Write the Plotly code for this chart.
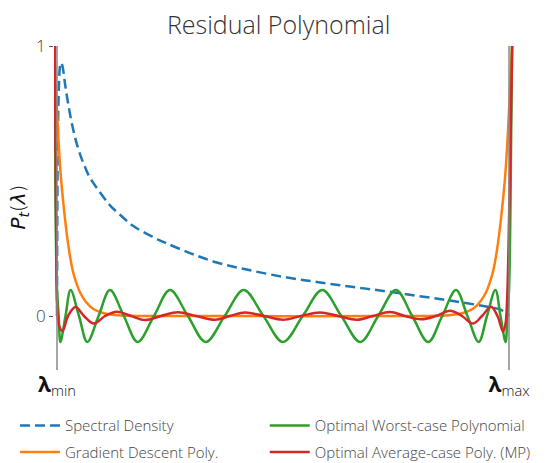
import plotly.graph_objects as go

# ---- data ----
lam_min = 0.0066
lam_max = 1.0

density_x = [0.0066, 0.0075, 0.0088, 0.011, 0.0132, 0.0154, 0.0187, 0.0242, 0.0308, 0.0396,
             0.0505, 0.0637, 0.0791, 0.1011, 0.1231, 0.1451, 0.1743, 0.2182, 0.2477, 0.2989,
             0.3576, 0.4235, 0.504, 0.5774, 0.6505, 0.7237, 0.7971, 0.8703, 0.9435, 0.9802,
             0.9912, 0.9967, 1.0]
density_y = [0.0, 0.45, 0.70, 0.86, 0.925, 0.938, 0.925, 0.86, 0.79, 0.71,
             0.635, 0.57, 0.512, 0.458, 0.41, 0.375, 0.333, 0.292, 0.269, 0.233,
             0.198, 0.172, 0.145, 0.126, 0.109, 0.093, 0.075, 0.057, 0.037, 0.024,
             0.014, 0.008, 0.0]

gd_x = [0.0, 0.0033, 0.0066, 0.011, 0.0154, 0.0198, 0.0242, 0.0308, 0.0374, 0.044,
        0.0571, 0.0703, 0.0857, 0.1077, 0.1341, 0.167, 0.233, 0.7736, 0.8396, 0.8725,
        0.8989, 0.9209, 0.9363, 0.9495, 0.9626, 0.9692, 0.9758, 0.9824, 0.9868, 0.9912,
        0.9956, 1.0, 1.0033, 1.0066, 1.0099]
gd_y = [1.0, 0.87, 0.76, 0.62, 0.51, 0.43, 0.36, 0.27, 0.20, 0.15,
        0.088, 0.052, 0.027, 0.011, 0.004, 0.001, 0.0, 0.0, 0.001, 0.004,
        0.011, 0.027, 0.052, 0.088, 0.15, 0.20, 0.27, 0.36, 0.43, 0.51,
        0.62, 0.76, 0.87, 1.0, 1.15]

worst_x = [0.0, 0.0033, 0.0066, 0.0103, 0.0141, 0.0253, 0.0365, 0.0549, 0.0732, 0.098,
           0.1229, 0.1534, 0.184, 0.2196, 0.2549, 0.2943, 0.3334, 0.3752, 0.4169, 0.4602,
           0.5033, 0.5466, 0.5897, 0.6314, 0.6732, 0.7125, 0.7516, 0.7873, 0.8226, 0.8532,
           0.8837, 0.9086, 0.9334, 0.9516, 0.9701, 0.9813, 0.9925, 0.9963, 1.0, 1.0033,
           1.0066, 1.0099]
worst_y = [1.0, 0.42, 0.096, 0.0, -0.096, 0.0, 0.096, 0.0, -0.096, 0.0,
           0.096, 0.0, -0.096, 0.0, 0.096, 0.0, -0.096, 0.0, 0.096, 0.0,
           -0.096, 0.0, 0.096, 0.0, -0.096, 0.0, 0.096, 0.0, -0.096, 0.0,
           0.096, 0.0, -0.096, 0.0, 0.096, 0.0, -0.096, 0.0, 0.096, 0.42,
           1.0, 1.6]

avg_x = [0.0, 0.0018, 0.0035, 0.0051, 0.007, 0.011, 0.0187, 0.0308, 0.0473, 0.0659,
         0.0879, 0.1121, 0.1385, 0.1692, 0.2, 0.2352, 0.2725, 0.3121, 0.3538, 0.3868,
         0.4198, 0.4615, 0.5033, 0.5429, 0.5846, 0.6242, 0.6659, 0.7011, 0.7385, 0.7714,
         0.8066, 0.8396, 0.8703, 0.8967, 0.9209, 0.9407, 0.9604, 0.9747, 0.9868, 0.9923,
         0.9956, 0.9989, 1.0022, 1.0055, 1.0077, 1.011]
avg_y = [1.25, 1.0, 0.6, 0.25, 0.03, -0.035, -0.056, 0.0, 0.033, 0.0,
         -0.028, 0.0, 0.016, 0.0, -0.015, 0.0, 0.014, 0.0, -0.014, 0.0,
         0.013, 0.0, -0.014, 0.0, 0.013, 0.0, -0.014, 0.0, 0.015, 0.0,
         -0.012, 0.0, 0.019, 0.0, -0.028, 0.0, 0.034, 0.0, -0.058, -0.03,
         0.05, 0.25, 0.55, 0.85, 1.05, 1.5]

y_ticks = [0, 1]
y_ticktext = ["0", "1"]
x_ticktext = ["<b>λ</b><sub>min</sub>", "<b>λ</b><sub>max</sub>"]
y_title = "<i>P</i><sub><i>t</i></sub>(<i>λ</i>)"

FONT = "Open Sans, DejaVu Sans, sans-serif"

fig = go.Figure()
fig.add_trace(go.Scatter(x=density_x, y=density_y, mode="lines", name="Spectral Density",
                         line=dict(color="#1f77b4", width=2.5, dash="10px,5px", shape="spline"),
                         legend="legend", legendgroup="a", legendrank=1))
fig.add_trace(go.Scatter(x=gd_x, y=gd_y, mode="lines", name="Gradient Descent Poly.",
                         line=dict(color="#ff7f0e", width=2.5, shape="spline"),
                         legend="legend", legendgroup="b", legendrank=2))
fig.add_trace(go.Scatter(x=worst_x, y=worst_y, mode="lines", name="Optimal Worst-case Polynomial",
                         line=dict(color="#2ca02c", width=2.5, shape="spline"),
                         legend="legend2", legendgroup="c", legendrank=1))
fig.add_trace(go.Scatter(x=avg_x, y=avg_y, mode="lines", name="Optimal Average-case Poly. (MP)",
                         line=dict(color="#d62728", width=2.5, shape="spline"),
                         legend="legend2", legendgroup="d", legendrank=2))

for xv in [lam_min, lam_max]:
    fig.add_shape(type="line", xref="x", yref="y", x0=xv, x1=xv, y0=-0.2, y1=1.0,
                  line=dict(color="#888888", width=1.5), layer="above")

fig.add_annotation(text=y_title, xref="paper", yref="paper", x=-0.077, y=0.503,
                   xanchor="center", yanchor="middle", textangle=-90, showarrow=False,
                   font=dict(size=20, color="#111111", family="DejaVu Sans, sans-serif"))

legend_common = dict(orientation="v", xanchor="left", yanchor="top",
                     xref="container", yref="container",
                     font=dict(size=15, color="#444444", family=FONT, weight=300),
                     bgcolor="rgba(0,0,0,0)", itemwidth=40, tracegroupgap=4,
                     traceorder="grouped")

fig.update_layout(
    width=555, height=463,
    margin=dict(l=54, r=41, t=46, b=93, autoexpand=False),
    paper_bgcolor="white", plot_bgcolor="white",
    font=dict(family=FONT, color="#444444", weight=300),
    title=dict(text="Residual Polynomial", x=0.502, xref="container", xanchor="center",
               y=0.945, yref="container", yanchor="middle",
               font=dict(family=FONT, size=25, color="#333333", weight=300)),
    xaxis=dict(range=[0, 1.011], tickvals=[lam_min, lam_max], ticktext=x_ticktext,
               showgrid=False, zeroline=False, showline=False, ticks="", automargin=False,
               tickfont=dict(size=21, color="#111111", family=FONT)),
    yaxis=dict(range=[-0.2, 1.0], tickvals=y_ticks, ticktext=y_ticktext,
               showgrid=False, zeroline=False, showline=False, ticks="outside",
               ticklen=4, tickcolor="#555555", tickwidth=1, automargin=False,
               tickfont=dict(size=17, color="#444444", family=FONT)),
    legend=dict(x=0.027, y=0.116, **legend_common),
    legend2=dict(x=0.477, y=0.116, **legend_common),
    showlegend=True,
)

fig.write_html("out.html", config={"displayModeBar": False},
               post_script="document.body.style.margin='0';document.body.style.overflow='hidden';")
